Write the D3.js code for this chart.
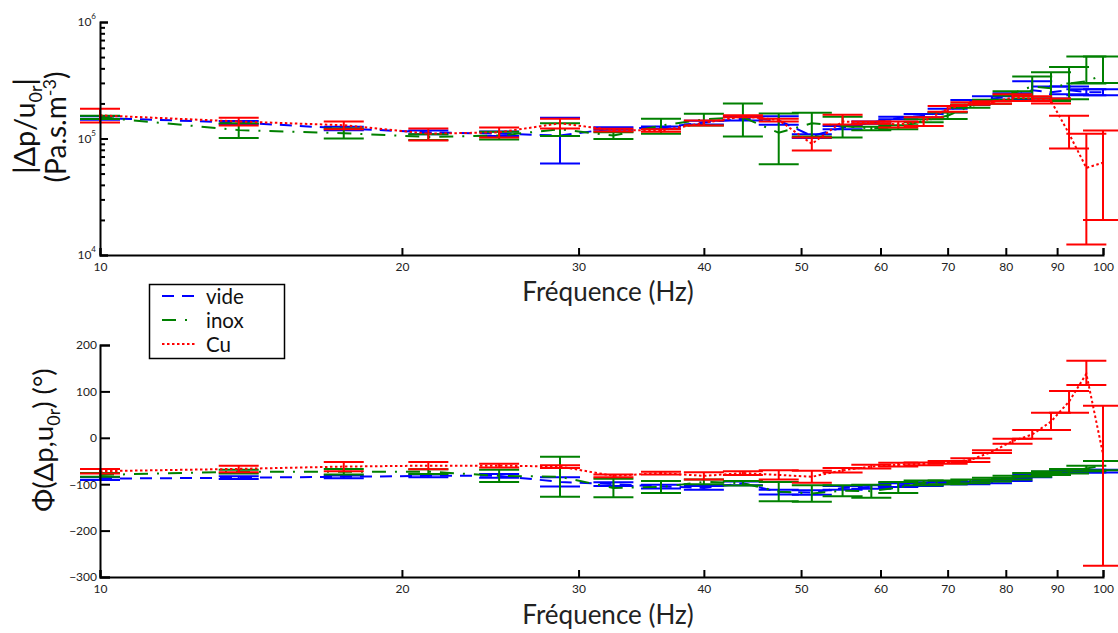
<!DOCTYPE html>
<html><head><meta charset="utf-8">
<script src="https://cdn.jsdelivr.net/npm/d3@7"></script>
<style>body{margin:0;background:#fff}svg{display:block}text{font-family:Lato,"Open Sans",sans-serif}</style>
</head><body><svg id="c" width="1118" height="633"></svg>
<script>
// ---- data ----
const freqs = [10,13.75,17.5,21.25,25,28.75,32.5,36.25,40,43.75,47.5,51.25,55,58.75,62.5,66.25,70,73.75,77.5,81.25,85,88.75,92.5,96.25,100];
const xTicks = [10,20,30,40,50,60,70,80,90,100];
const phaseTicks = [200,100,0,-100,-200,-300];
const legendNames = ["vide","inox","Cu"];
// magnitude |Δp/u0r| in units of 1e5 Pa.s.m^-3
const magVide   = [1.50,1.37,1.22,1.13,1.10,1.06,1.22,1.24,1.37,1.48,1.43,1.05,1.24,1.37,1.50,1.57,1.74,2.04,2.20,2.30,2.60,2.50,2.60,2.50,2.50];
const magVideLo = [1.45,1.33,1.18,1.09,1.05,0.61,1.19,1.21,1.32,1.43,1.31,1.01,1.20,1.34,1.46,1.52,1.68,1.94,2.10,2.15,2.10,2.20,2.40,2.35,2.35];
const magVideHi = [1.55,1.41,1.26,1.17,1.15,1.51,1.25,1.27,1.42,1.53,1.55,1.09,1.28,1.40,1.54,1.62,1.80,2.14,2.30,2.45,3.10,2.80,2.80,2.65,2.65];
const magInox   = [1.52,1.18,1.11,1.03,1.06,1.20,1.06,1.29,1.46,1.52,1.12,1.35,1.28,1.22,1.25,1.42,1.57,1.90,2.07,2.44,2.80,2.70,2.97,3.10,3.50];
const magInoxLo = [1.47,1.01,1.00,0.97,0.98,1.05,0.99,1.10,1.29,1.04,0.60,1.04,1.02,1.18,1.20,1.38,1.47,1.84,1.99,2.34,2.20,2.10,2.17,2.97,3.00];
const magInoxHi = [1.57,1.35,1.22,1.09,1.14,1.35,1.13,1.48,1.63,2.00,1.64,1.66,1.54,1.26,1.30,1.46,1.67,1.96,2.15,2.54,3.40,3.70,4.10,5.05,5.05];
const magCu     = [1.58,1.40,1.30,1.10,1.13,1.35,1.18,1.17,1.36,1.55,1.44,0.90,1.40,1.37,1.32,1.40,1.80,2.00,2.04,2.25,2.20,2.10,1.10,0.56,0.62];
const magCuLo   = [1.37,1.29,1.20,0.96,1.02,1.22,1.15,1.14,1.29,1.52,1.40,0.79,1.32,1.34,1.24,1.28,1.70,1.95,1.99,2.10,2.10,2.00,0.82,0.123,0.20];
const magCuHi   = [1.80,1.51,1.40,1.22,1.24,1.48,1.21,1.20,1.43,1.58,1.48,1.02,1.60,1.40,1.40,1.52,1.90,2.05,2.09,2.40,2.30,2.20,1.57,1.10,1.17];
const MAG_UNIT = 1e5;
// phase Φ(Δp,u0r) in degrees
const phVide   = [-88,-86,-84,-82,-82,-95,-100,-105,-108,-98,-117,-118,-108,-106,-102,-100,-97,-97,-95,-90,-82,-76,-73,-72,-72];
const phVideLo = [-91,-89,-87,-85,-86,-105,-104,-109,-112,-102,-122,-123,-112,-110,-106,-104,-100,-100,-98,-93,-85,-79,-76,-75,-75];
const phVideHi = [-85,-83,-81,-79,-78,-85,-96,-101,-104,-94,-112,-113,-104,-102,-98,-96,-94,-94,-92,-87,-79,-73,-70,-69,-69];
const phInox   = [-80,-73,-73,-73,-82,-84,-108,-106,-95,-98,-116,-120,-114,-115,-107,-97,-96,-94,-90,-86,-80,-76,-72,-66,-60];
const phInoxLo = [-84,-77,-79,-78,-95,-127,-128,-119,-100,-103,-137,-138,-126,-129,-119,-102,-100,-98,-94,-90,-84,-80,-77,-72,-70];
const phInoxHi = [-76,-69,-67,-68,-69,-41,-88,-93,-90,-93,-95,-102,-102,-101,-95,-92,-92,-90,-86,-82,-76,-72,-67,-60,-50];
const phCu     = [-72,-67,-62,-60,-60,-62,-82,-76,-82,-76,-80,-84,-70,-62,-58,-56,-53,-48,-30,-7,7,35,78,138,-35];
const phCuLo   = [-77,-74,-72,-68,-64,-65,-85,-79,-90,-80,-90,-97,-75,-66,-62,-59,-56,-52,-33,-13,-2,17,54,114,-276];
const phCuHi   = [-67,-60,-52,-52,-56,-59,-79,-73,-74,-72,-70,-71,-65,-58,-54,-53,-50,-44,-27,-2,17,54,101,166,69];

// ---- drawing ----
const svg = d3.select("#c");
const X0 = 100, X1 = 1103;
const x = d3.scaleLog().domain([10,100]).range([X0,X1]);
const yMag = d3.scaleLog().domain([1e4,1e6]).range([255,22]);
const yPh = d3.scaleLinear().domain([-300,200]).range([577,345]);
const colors = ["#0000ff","#008000","#ff0000"];
const dashes = ["12,8","14,9,2,9","2.5,2.5"];
const CAP = 20;

function drawSeries(yS, vals, lo, hi, i, unit){
  const g = svg.append("g");
  const ebar = g.append("g").attr("stroke",colors[i]).attr("stroke-width",2).attr("fill","none");
  freqs.forEach((f,k)=>{
    const cx = x(f), y1 = yS(lo[k]*unit), y2 = yS(hi[k]*unit);
    ebar.append("line").attr("x1",cx).attr("x2",cx).attr("y1",y1).attr("y2",y2);
    ebar.append("line").attr("x1",cx-CAP).attr("x2",cx+CAP).attr("y1",y1).attr("y2",y1);
    ebar.append("line").attr("x1",cx-CAP).attr("x2",cx+CAP).attr("y1",y2).attr("y2",y2);
  });
  const line = d3.line().x((d,k)=>x(freqs[k])).y(d=>yS(d*unit));
  g.append("path").attr("d",line(vals)).attr("fill","none").attr("stroke",colors[i])
    .attr("stroke-width",2).attr("stroke-dasharray",dashes[i]);
}

[[magVide,magVideLo,magVideHi],[magInox,magInoxLo,magInoxHi],[magCu,magCuLo,magCuHi]].forEach((s,i)=>drawSeries(yMag,s[0],s[1],s[2],i,MAG_UNIT));
[[phVide,phVideLo,phVideHi],[phInox,phInoxLo,phInoxHi],[phCu,phCuLo,phCuHi]].forEach((s,i)=>drawSeries(yPh,s[0],s[1],s[2],i,1));

// axes
function xAxis(yPos){
  const ax = d3.axisBottom(x).tickValues(xTicks).tickSize(-7).tickPadding(7).tickFormat(d3.format("d"));
  const g = svg.append("g").attr("transform",`translate(0,${yPos})`).call(ax);
  g.select(".domain").attr("stroke","#000").attr("stroke-width",2);
  g.selectAll(".tick line").attr("stroke","#000").attr("stroke-width",2);
  g.selectAll(".tick text").attr("font-size",12).attr("fill","#222").attr("font-family","Lato, sans-serif");
  return g;
}
xAxis(255); xAxis(577);

const magMinor = [];
[1e4,1e5].forEach(b=>{for(let m=2;m<=9;m++) magMinor.push(b*m);});
const gyM = svg.append("g").attr("transform",`translate(${X0},0)`)
  .call(d3.axisLeft(yMag).tickValues(magMinor).tickSize(-5).tickFormat(""));
gyM.selectAll(".tick line").attr("stroke","#000").attr("stroke-width",2);
gyM.select(".domain").remove();
const gyM2 = svg.append("g").attr("transform",`translate(${X0},0)`)
  .call(d3.axisLeft(yMag).tickValues([1e4,1e5,1e6]).tickSize(-8).tickFormat(""));
gyM2.select(".domain").attr("stroke","#000").attr("stroke-width",2);
gyM2.selectAll(".tick line").attr("stroke","#000").attr("stroke-width",2);
[1e4,1e5,1e6].forEach(v=>{
  const t = svg.append("text").attr("x",X0-4).attr("y",yMag(v)+4).attr("text-anchor","end")
    .attr("font-size",12).attr("fill","#222");
  t.append("tspan").text("10");
  t.append("tspan").attr("dy",-7).attr("font-size",8).text(Math.round(Math.log10(v)));
});

const gyP = svg.append("g").attr("transform",`translate(${X0},0)`)
  .call(d3.axisLeft(yPh).tickValues(phaseTicks).tickSize(-10).tickPadding(3).tickFormat(d3.format("d")));
gyP.select(".domain").attr("stroke","#000").attr("stroke-width",2);
gyP.selectAll(".tick line").attr("stroke","#000").attr("stroke-width",2);
gyP.selectAll(".tick text").attr("font-size",12).attr("fill","#222").attr("font-family","Lato, sans-serif");

// axis titles
svg.append("text").attr("x",608).attr("y",301).attr("text-anchor","middle").attr("font-size",26).attr("fill","#222").text("Fréquence (Hz)");
svg.append("text").attr("x",608).attr("y",624).attr("text-anchor","middle").attr("font-size",26).attr("fill","#222").text("Fréquence (Hz)");

const t1 = svg.append("text").attr("transform","translate(35,126) rotate(-90)").attr("text-anchor","middle").attr("font-size",29).attr("fill","#111");
t1.append("tspan").text("|Δp/u");
t1.append("tspan").attr("dy",7).attr("font-size",18).text("0r");
t1.append("tspan").attr("dy",-7).text("|");
const t2 = svg.append("text").attr("transform","translate(66,127) rotate(-90)").attr("text-anchor","middle").attr("font-size",28).attr("fill","#111");
t2.append("tspan").text("(Pa.s.m");
t2.append("tspan").attr("dy",-10).attr("font-size",18).text("-3");
t2.append("tspan").attr("dy",10).text(")");
const t3 = svg.append("text").attr("transform","translate(53,440) rotate(-90)").attr("text-anchor","middle").attr("font-size",27.5).attr("fill","#111");
t3.append("tspan").text("Φ(Δp,u");
t3.append("tspan").attr("dy",7).attr("font-size",18).text("0r");
t3.append("tspan").attr("dy",-7).text(") (°)");

// legend
const lg = svg.append("g");
lg.append("rect").attr("x",149.5).attr("y",284.5).attr("width",135).attr("height",74).attr("fill","#fff").attr("stroke","#000").attr("stroke-width",1.5);
const legendY = [296, 320, 344];
legendNames.forEach((n,i)=>{
  const yy = legendY[i];
  lg.append("line").attr("x1",162).attr("x2",195).attr("y1",yy).attr("y2",yy).attr("stroke",colors[i]).attr("stroke-width",2).attr("stroke-dasharray",dashes[i]);
  lg.append("text").attr("x",206).attr("y",yy+8).attr("font-size",20.5).attr("fill","#111").text(n);
});
</script></body></html>
